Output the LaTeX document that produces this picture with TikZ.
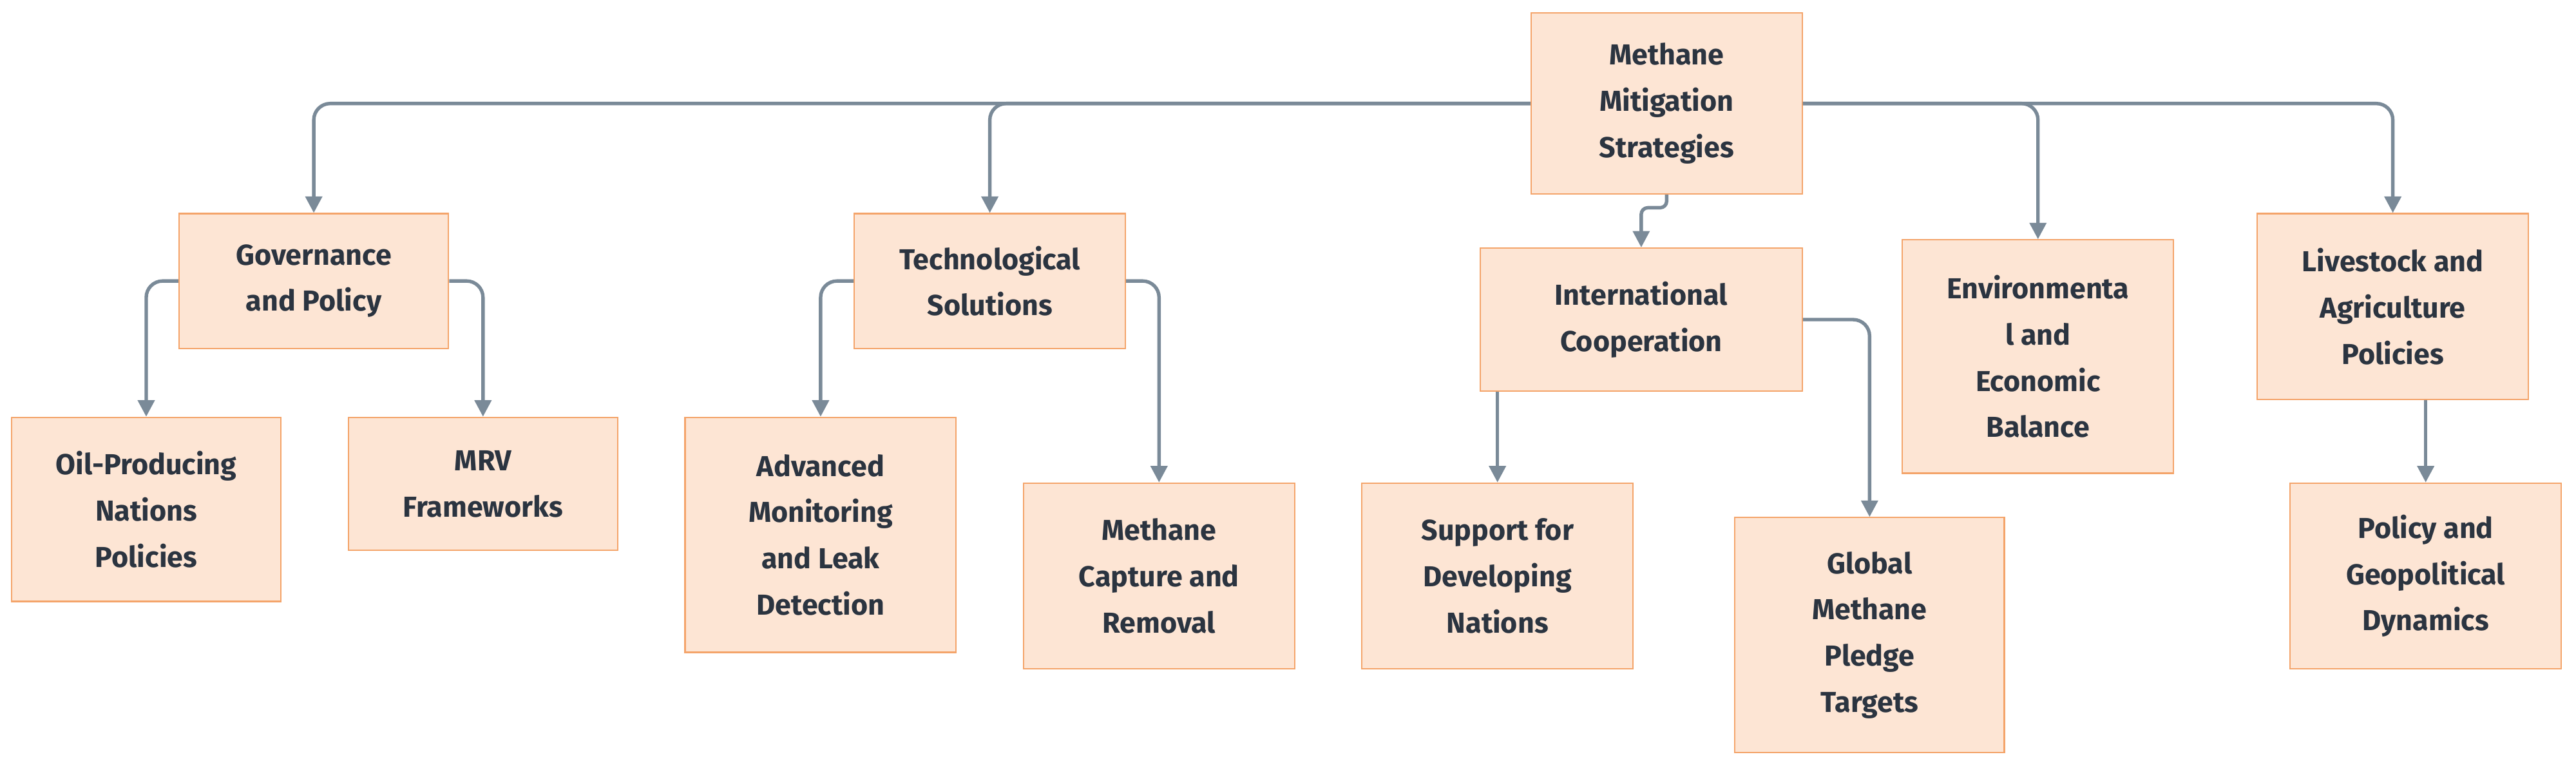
\documentclass[tikz,border=0pt]{standalone}
\usepackage{fontspec}
\setmainfont{Fira Sans}
\usetikzlibrary{arrows.meta}
\definecolor{boxfill}{HTML}{FDE5D4}
\definecolor{boxdraw}{HTML}{F4A46A}
\definecolor{linec}{HTML}{7A8A98}
\definecolor{txt}{HTML}{2B3440}
\begin{document}
\begin{tikzpicture}[x=0.5mm,y=-0.5mm,
  box/.style={draw=boxdraw,fill=boxfill,line width=1.2pt,inner sep=0pt,align=center,
    font=\fontsize{25}{40}\selectfont\bfseries,text=txt},
  conn/.style={draw=linec,line width=3pt,rounded corners=5mm,-{Triangle[length=5mm,width=5mm]}}]
\useasboundingbox (0,0) rectangle (1568,467);
\fill[white] (0,0) rectangle (1568,467);
\node[box,minimum width=82.5mm,minimum height=55mm] (root) at (1014.5,63) {Methane\\Mitigation\\Strategies};
\node[box,minimum width=82mm,minimum height=41mm] (gov) at (191,171) {Governance\\and Policy};
\node[box,minimum width=82.5mm,minimum height=41mm] (tech) at (602.5,171) {Technological\\Solutions};
\node[box,minimum width=98mm,minimum height=43.5mm] (intl) at (999,194.5) {International\\Cooperation};
\node[box,minimum width=82.5mm,minimum height=71mm] (env) at (1240.5,217) {Environmenta\\l and\\Economic\\Balance};
\node[box,minimum width=82.5mm,minimum height=56.5mm] (live) at (1456.5,186.5) {Livestock and\\Agriculture\\Policies};
\node[box,minimum width=82mm,minimum height=56mm] (oil) at (89,310) {Oil-Producing\\Nations\\Policies};
\node[box,minimum width=82mm,minimum height=40.5mm] (mrv) at (294,294.5) {MRV\\Frameworks};
\node[box,minimum width=82.5mm,minimum height=71.5mm] (adv) at (499.5,325.5) {Advanced\\Monitoring\\and Leak\\Detection};
\node[box,minimum width=82.5mm,minimum height=56.5mm] (cap) at (705.5,350.5) {Methane\\Capture and\\Removal};
\node[box,minimum width=82.5mm,minimum height=56.5mm] (sup) at (911.5,350.5) {Support for\\Developing\\Nations};
\node[box,minimum width=82mm,minimum height=71.5mm] (glob) at (1138,386.5) {Global\\Methane\\Pledge\\Targets};
\node[box,minimum width=82.5mm,minimum height=56.5mm] (pol) at (1476.5,350.5) {Policy and\\Geopolitical\\Dynamics};
\draw[conn] (root.west) -| (gov.north);
\draw[conn] (root.west) -| (tech.north);
\draw[conn] (root.east) -| (env.north);
\draw[conn] (root.east) -| (live.north);
\draw[conn,rounded corners=2mm] (root.south) -- ++(0,8) -| (intl.north);
\draw[conn] (gov.west) -| (oil.north);
\draw[conn] (gov.east) -| (mrv.north);
\draw[conn] (tech.west) -| (adv.north);
\draw[conn] (tech.east) -| (cap.north);
\draw[conn] (intl.east) -| (glob.north);
\draw[conn] (intl.south -| sup.north) -- (sup.north);
\draw[conn] (live.south -| pol.north) -- (pol.north);
\end{tikzpicture}
\end{document}
